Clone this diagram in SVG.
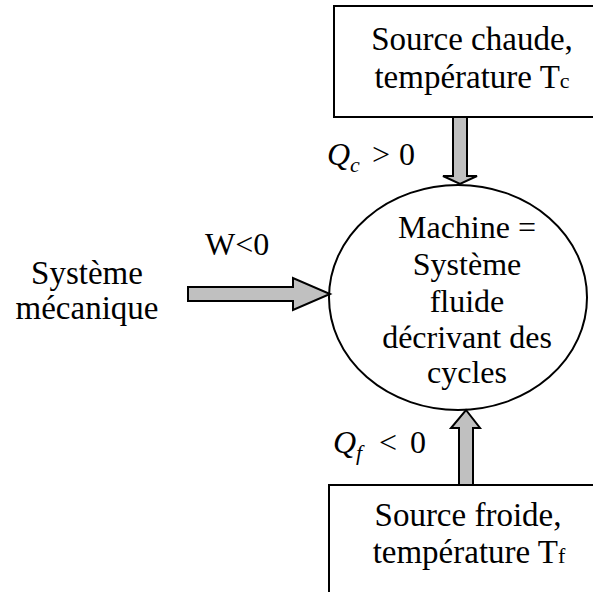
<svg xmlns="http://www.w3.org/2000/svg" width="593" height="592" viewBox="0 0 593 592">
<style>
.box{fill:#fff;stroke:#000;stroke-width:2}
.ell{fill:#fff;stroke:#000;stroke-width:2}
.arr{fill:#c0c0c0;stroke:#000;stroke-width:2;stroke-linejoin:miter}
.t{font-family:"Liberation Serif","Times New Roman",serif;font-size:33px;fill:#000;text-anchor:middle}
.m{font-family:"Liberation Serif","Times New Roman",serif;font-size:32px;fill:#000;text-anchor:middle}
.q{font-family:"Liberation Serif","Times New Roman",serif;font-size:32px;fill:#000}
.sub{font-size:22px}
</style>
<rect width="593" height="592" fill="#fff"/>
<g id="source-chaude">
<rect class="box" x="334" y="6" width="270" height="111"/>
<text class="t" x="472" y="50">Source chaude,</text>
<text class="t" x="472" y="88">température T<tspan class="sub">c</tspan></text>
</g>
<g id="machine">
<ellipse class="ell" cx="458" cy="297.5" rx="129" ry="112.5"/>
<text class="m" x="467" y="238">Machine =</text>
<text class="m" x="467" y="275">Système</text>
<text class="m" x="467" y="312">fluide</text>
<text class="m" x="467" y="348">décrivant des</text>
<text class="m" x="467" y="383">cycles</text>
</g>
<g id="systeme-mecanique">
<text class="t" x="87" y="284">Système</text>
<text class="t" x="87" y="319">mécanique</text>
</g>
<g id="source-froide">
<rect class="box" x="329" y="485" width="280" height="120"/>
<text class="t" x="468" y="526">Source froide,</text>
<text class="t" x="469" y="563">température T<tspan class="sub">f</tspan></text>
</g>
<g id="connectors">
<path class="arr" d="M453,117 L467,117 L467,176 L477,176 L460,184 L443,176 L453,176 Z"/>
<path class="arr" d="M188,287 L293,287 L293,278 L330,294 L293,310 L293,301 L188,301 Z"/>
<path class="arr" d="M459,485 L459,428 L451,428 L466,410 L480,428 L473,428 L473,485 Z"/>
<text class="q" x="327" y="165"><tspan font-style="italic">Q</tspan><tspan font-style="italic" class="sub" dy="7">c</tspan><tspan x="372" dy="-7">&gt;</tspan><tspan x="399">0</tspan></text>
<text class="q" x="333" y="453"><tspan font-style="italic">Q</tspan><tspan font-style="italic" class="sub" dy="7">f</tspan><tspan x="379" dy="-7">&lt;</tspan><tspan x="410">0</tspan></text>
<text class="q" x="205" y="255">W&lt;0</text>
</g>
</svg>
